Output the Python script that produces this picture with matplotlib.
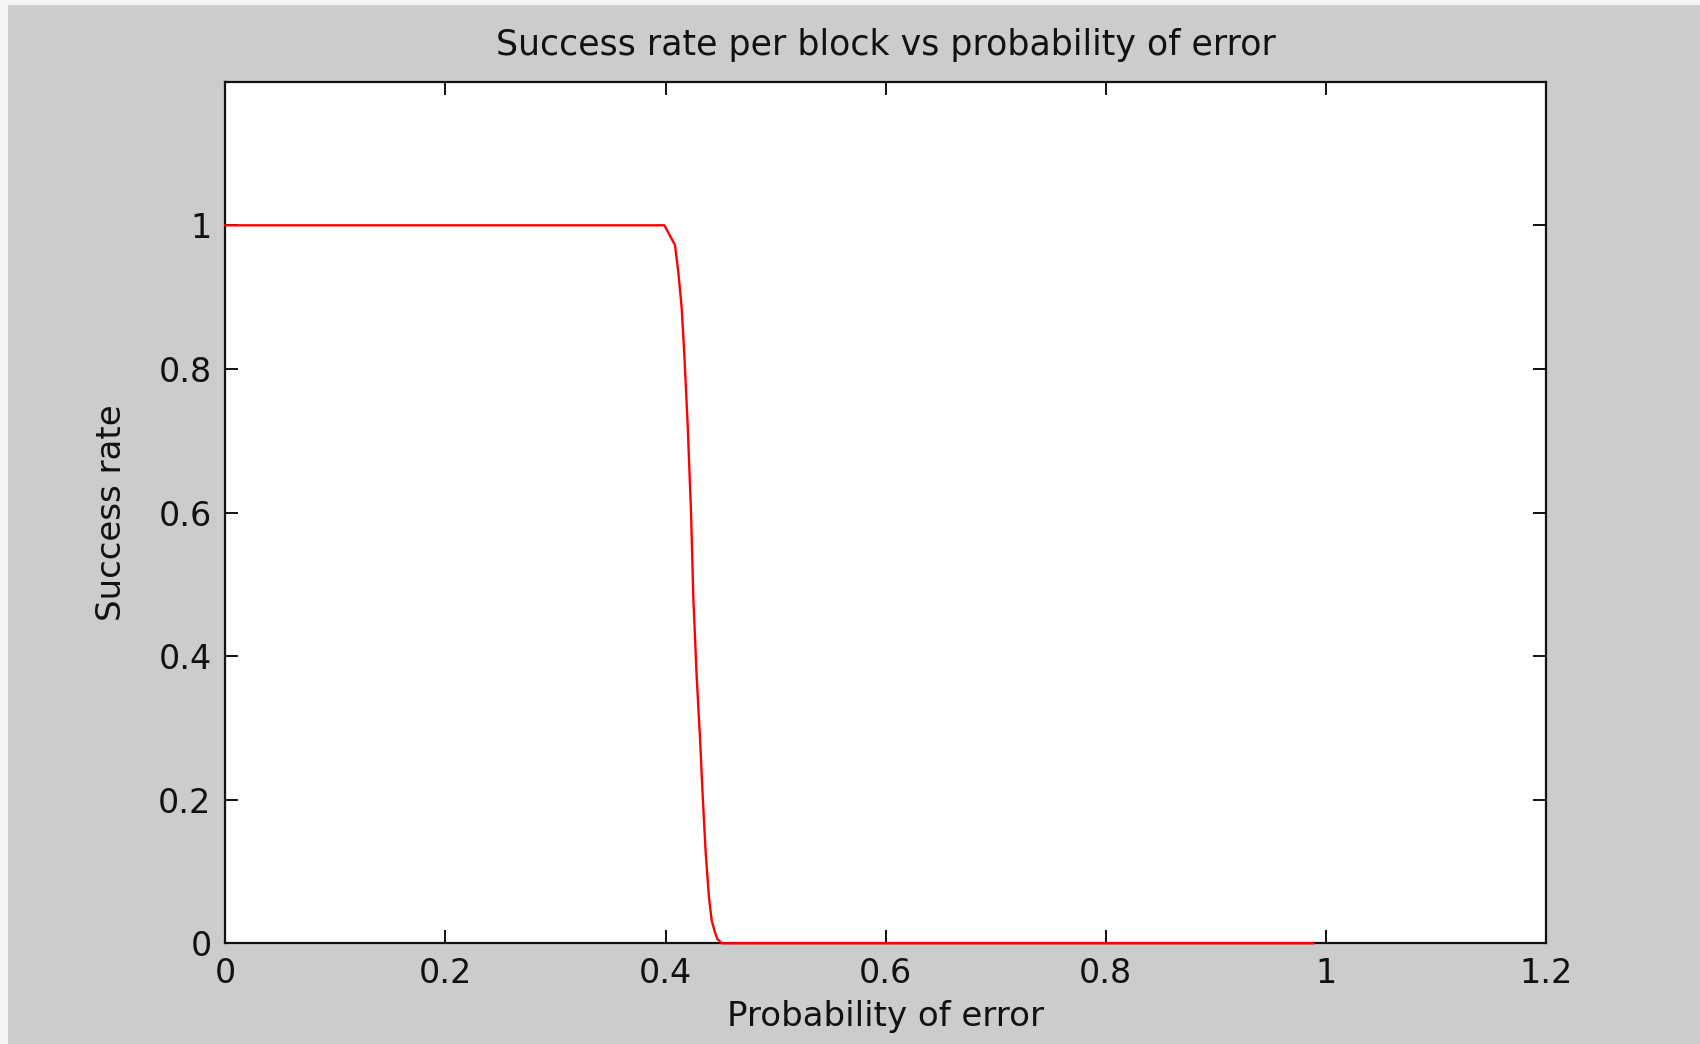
import numpy as np
import matplotlib
matplotlib.use("Agg")
import matplotlib.pyplot as plt
from matplotlib.patches import Rectangle

# ------------------------------------------
# Data
# ------------------------------------------
p_error = [0.0, 0.399, 0.4086, 0.4117, 0.4147, 0.4171, 0.4202, 0.4232, 0.4253,
           0.4283, 0.4314, 0.4338, 0.4365, 0.4395, 0.442, 0.4447, 0.447, 0.451, 0.989]
success = [1.0, 1.0, 0.9726, 0.934, 0.885, 0.820, 0.720, 0.600, 0.481,
           0.3726, 0.285, 0.2055, 0.1267, 0.064, 0.0315, 0.0167, 0.0064, 0.0, 0.0]

x_ticks = [0, 0.2, 0.4, 0.6, 0.8, 1.0, 1.2]
x_tick_labels = ["0", "0.2", "0.4", "0.6", "0.8", "1", "1.2"]
y_ticks = [0, 0.2, 0.4, 0.6, 0.8, 1.0]
y_tick_labels = ["0", "0.2", "0.4", "0.6", "0.8", "1"]

plt.rcParams['font.family'] = ['DejaVu Sans']

fig = plt.figure(figsize=(17, 10.44), dpi=100, facecolor='#f4f4f4')
# grey figure panel, leaves a thin light strip on the left and top
fig.patches.append(Rectangle((8 / 1700, 0), 1, 1 - 5 / 1044, transform=fig.transFigure,
                             facecolor='#cccccc', edgecolor='none', zorder=-10))

ax = fig.add_axes([225.4 / 1700, 100.7 / 1044, 1320.3 / 1700, 861.6 / 1044])
ax.set_zorder(5)
ax.set_facecolor('white')
ax.plot(p_error, success, color='#ff0000', linewidth=1.7, zorder=3, clip_on=False)

ax.set_xlim(0, 1.2)
ax.set_ylim(0, 1.2)
ax.set_xticks(x_ticks)
ax.set_xticklabels(x_tick_labels)
ax.set_yticks(y_ticks)
ax.set_yticklabels(y_tick_labels)

ax.tick_params(direction='in', length=9.5, width=1.4, colors='#111111',
               labelsize=24, pad=10, top=True, right=True)
for s in ax.spines.values():
    s.set_linewidth(1.6)
    s.set_color('#111111')

ax.set_title("Success rate per block vs probability of error", fontsize=25,
             pad=19, color='#111111')
ax.set_xlabel("Probability of error", fontsize=24.5, labelpad=7, color='#111111')
ax.set_ylabel("Success rate", fontsize=24.5, labelpad=22, color='#111111')

fig.savefig("out.png", dpi=100, facecolor=fig.get_facecolor())
